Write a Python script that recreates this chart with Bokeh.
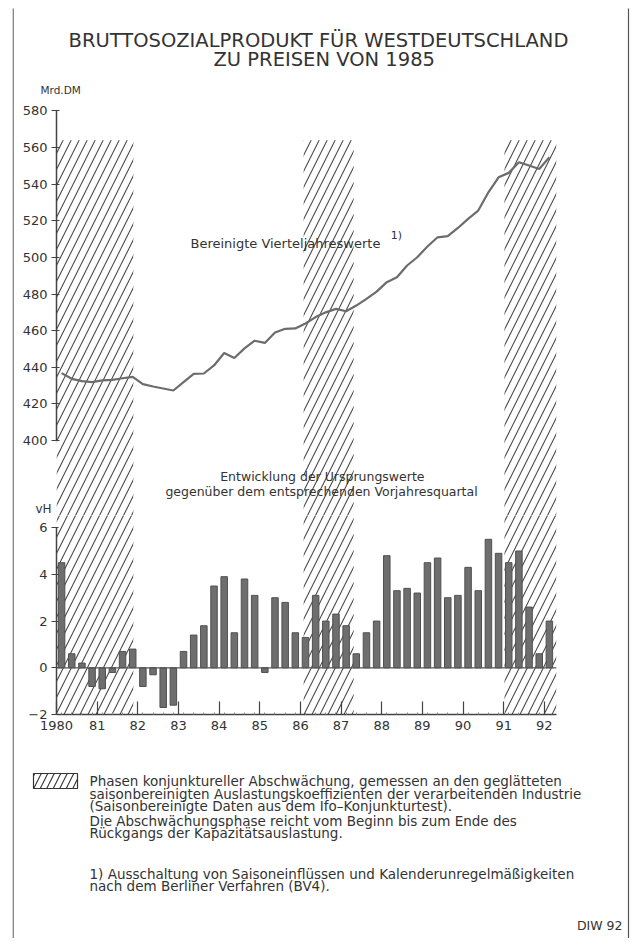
from bokeh.plotting import figure
from bokeh.models import Range1d, LinearAxis, FixedTicker, Label, Span, Title
from bokeh.layouts import column
from bokeh.embed import file_html
from bokeh.resources import INLINE
from bokeh.core.properties import value

# ---------------- data ----------------
quarter_year = [y for y in range(1980, 1992) for _ in range(4)] + [1992]
quarter_num = [1, 2, 3, 4] * 12 + [1]

# Bruttosozialprodukt, bereinigte Vierteljahreswerte (Mrd. DM, Preise 1985)
gnp = [436.8, 433.7, 432.4, 431.9, 432.8, 433.1, 434.0, 434.8,
       430.8, 429.5, 428.4, 427.3, 431.9, 436.4, 436.6, 441.0,
       447.8, 445.1, 450.3, 454.5, 453.3, 459.0, 461.0, 461.2,
       463.9, 467.4, 470.0, 471.9, 470.6, 473.7, 477.4, 481.3,
       486.5, 489.2, 495.6, 500.1, 506.0, 511.0, 511.6, 516.1,
       521.1, 525.6, 535.6, 543.8, 546.2, 552.0, 550.2, 548.3,
       554.7]

# Veraenderung gegenueber Vorjahresquartal (vH)
growth = [4.5, 0.6, 0.2, -0.8, -0.9, -0.2, 0.7, 0.8,
          -0.8, -0.3, -1.7, -1.6, 0.7, 1.4, 1.8, 3.5,
          3.9, 1.5, 3.8, 3.1, -0.2, 3.0, 2.8, 1.5,
          1.3, 3.1, 2.0, 2.3, 1.8, 0.6, 1.5, 2.0,
          4.8, 3.3, 3.4, 3.2, 4.5, 4.7, 3.0, 3.1,
          4.3, 3.3, 5.5, 4.9, 4.5, 5.0, 2.6, 0.6,
          2.0]

# Phasen konjunktureller Abschwaechung (in Jahren)
phase_start = [1980.0, 1986.08, 1991.02]
phase_end = [1981.89, 1987.31, 1992.3]

year_ticks = list(range(1980, 1993))
year_labels = ["1980", "81", "82", "83", "84", "85", "86", "87", "88", "89", "90", "91", "92"]
upper_ticks = [400, 420, 440, 460, 480, 500, 520, 540, 560, 580]
lower_ticks = [-2, 0, 2, 4, 6]
lower_labels = ["\u22122", "0", "2", "4", "6"]

title_lines = ["BRUTTOSOZIALPRODUKT FÜR WESTDEUTSCHLAND", "ZU PREISEN VON 1985"]
legend_lines = [
    "Phasen konjunktureller Abschwächung, gemessen an den geglätteten",
    "saisonbereinigten Auslastungskoeffizienten der verarbeitenden Industrie",
    "(Saisonbereinigte Daten aus dem Ifo\u2013Konjunkturtest).",
    "Die Abschwächungsphase reicht vom Beginn bis zum Ende des",
    "Rückgangs der Kapazitätsauslastung.",
    "1) Ausschaltung von Saisoneinflüssen und Kalenderunregelmäßigkeiten",
    "nach dem Berliner Verfahren (BV4).",
]

x_q = [y + (q - 0.5) / 4 for y, q in zip(quarter_year, quarter_num)]

FONT = "DejaVu Sans"
TXT = "#333333"
AX = "#444444"
HATCH = "#4a4a4a"
W = 615

xr_start, xr_end = 1980.0, 1992.3

# ---------------- upper panel ----------------
up_lo, up_hi = 359.03, 583.0
p1 = figure(width=W, height=507, output_backend="svg", toolbar_location=None,
            x_range=Range1d(xr_start, xr_end), y_range=Range1d(up_lo, up_hi),
            x_axis_type=None, y_axis_type=None,
            min_border_left=44, min_border_right=71, min_border_top=97, min_border_bottom=0)
p1.outline_line_color = None
p1.border_fill_color = "white"

p1.quad(left=phase_start, right=phase_end, bottom=up_lo - 10, top=564,
        fill_alpha=0, line_alpha=0, hatch_pattern="/", hatch_scale=16,
        hatch_weight=1.1, hatch_color=HATCH)
p1.line(x_q, gnp, line_color="#6c6c6c", line_width=2.2)

ya = LinearAxis(bounds=(400, 580), ticker=FixedTicker(ticks=upper_ticks))
ya.axis_line_color = AX
ya.axis_line_width = 1.5
ya.major_tick_line_color = AX
ya.major_tick_line_width = 1.2
ya.major_tick_in = 3
ya.major_tick_out = 5
ya.minor_tick_line_color = None
ya.major_label_text_font = FONT
ya.major_label_text_font_size = "13px"
ya.major_label_text_color = TXT
ya.major_label_standoff = 4
p1.add_layout(ya, "left")

p1.add_layout(Title(text="Mrd.DM", align="left", offset=-16, standoff=20,
                    text_font=FONT, text_font_size="10.5px", text_font_style="normal",
                    text_color=TXT), "above")
p1.add_layout(Title(text=title_lines[1], align="left", offset=157, standoff=1,
                    text_font=FONT, text_font_size="19.5px", text_font_style="normal",
                    text_color=TXT), "above")
p1.add_layout(Title(text=title_lines[0], align="left", offset=12, standoff=-12,
                    text_font=FONT, text_font_size="19.5px", text_font_style="normal",
                    text_color=TXT), "above")

p1.add_layout(Label(x=1983.296, y=507.6, text="Bereinigte Vierteljahreswerte",
                    text_align="left", text_baseline="middle", text_font=FONT,
                    text_font_size="13px", text_color=TXT))
p1.add_layout(Label(x=1988.22, y=512.0, text="1)", text_align="left",
                    text_baseline="middle", text_font=FONT, text_font_size="11px",
                    text_color=TXT))
p1.add_layout(Label(x=1986.54, y=380.33, text="Entwicklung der Ursprungswerte",
                    text_align="center", text_baseline="middle", text_font=FONT,
                    text_font_size="12.5px", text_color=TXT))
p1.add_layout(Label(x=1986.52, y=372.14, text="gegenüber dem entsprechenden Vorjahresquartal",
                    text_align="center", text_baseline="middle", text_font=FONT,
                    text_font_size="12.5px", text_color=TXT))

# ---------------- lower panel ----------------
lo_lo, lo_hi = -2.0, 6.52
p2 = figure(width=W, height=257, output_backend="svg", toolbar_location=None,
            x_range=p1.x_range, y_range=Range1d(lo_lo, lo_hi),
            x_axis_type=None, y_axis_type=None,
            min_border_left=44, min_border_right=71, min_border_top=27, min_border_bottom=31,
            styles={"margin-top": "-27px"})
p2.outline_line_color = None
p2.border_fill_color = None
p2.background_fill_color = None

p2.quad(left=phase_start, right=phase_end, bottom=lo_lo, top=lo_hi + 2,
        fill_alpha=0, line_alpha=0, hatch_pattern="/", hatch_scale=16,
        hatch_weight=1.1, hatch_color=HATCH)
p2.add_layout(Span(location=0, dimension="width", line_color="#555555", line_width=1.2))
p2.vbar(x=x_q, width=0.16, bottom=0, top=growth, fill_color="#6e6e6e",
        line_color="#505050", line_width=1)

la = LinearAxis(bounds=(-2, 6), ticker=FixedTicker(ticks=lower_ticks))
la.major_label_overrides = {t: s for t, s in zip(lower_ticks, lower_labels)}
la.axis_line_color = AX
la.axis_line_width = 1.5
la.major_tick_line_color = AX
la.major_tick_line_width = 1.2
la.major_tick_in = 2
la.major_tick_out = 5
la.minor_tick_line_color = None
la.major_label_text_font = FONT
la.major_label_text_font_size = "13px"
la.major_label_text_color = TXT
la.major_label_standoff = 4
p2.add_layout(la, "left")

xa = LinearAxis(ticker=FixedTicker(ticks=year_ticks, minor_ticks=x_q[:-1]))
xa.major_label_overrides = {t: s for t, s in zip(year_ticks, year_labels)}
xa.axis_line_color = AX
xa.axis_line_width = 1.5
xa.major_tick_line_color = AX
xa.major_tick_line_width = 1.2
xa.major_tick_in = 13
xa.major_tick_out = 0
xa.minor_tick_line_color = "#888888"
xa.minor_tick_in = 2
xa.minor_tick_out = 0
xa.major_label_text_font = FONT
xa.major_label_text_font_size = "13px"
xa.major_label_text_color = TXT
xa.major_label_standoff = 6
p2.add_layout(xa, "below")

p2.add_layout(Title(text="vH", align="left", offset=-21, standoff=0,
                    text_font=FONT, text_font_size="12px", text_font_style="normal",
                    text_color=TXT), "above")

# ---------------- notes / legend ----------------
p3 = figure(width=W, height=193, output_backend="svg", toolbar_location=None,
            x_range=Range1d(12, 12 + W), y_range=Range1d(938, 745),
            x_axis_type=None, y_axis_type=None, min_border=0,
            min_border_left=0, min_border_right=0, min_border_top=0, min_border_bottom=0)
p3.outline_line_color = None
p3.border_fill_color = "white"
p3.quad(left=[33], right=[77], top=[773], bottom=[788], fill_alpha=0,
        line_color="#333333", line_width=1.2, hatch_pattern="/", hatch_scale=13,
        hatch_weight=1.1, hatch_color="#333333")
note_y = [780, 793, 805.5, 820, 832, 873, 885]
p3.text(x=[89] * len(legend_lines), y=note_y, text=legend_lines,
        text_font=value(FONT), text_font_size="13.5px", text_color=TXT,
        text_baseline="middle", text_align="left")
p3.text(x=[622], y=[925], text=["DIW 92"], text_font=value(FONT),
        text_font_size="12.5px", text_color=TXT, text_baseline="middle", text_align="right")

# ---------------- page frame (transparent overlay) ----------------
p0 = figure(width=618, height=930, output_backend="svg", toolbar_location=None,
            x_range=Range1d(12, 630), y_range=Range1d(938, 8),
            x_axis_type=None, y_axis_type=None, min_border=0,
            min_border_left=0, min_border_right=0, min_border_top=0, min_border_bottom=0)
p0.outline_line_color = None
p0.border_fill_color = None
p0.background_fill_color = None
p0.segment(x0=[12.6, 628], y0=[0, 0], x1=[12.6, 628], y1=[960, 960],
           line_color="#555555", line_width=1.2)

layout = column(column(p1, p2), p3, column(p0, styles={"margin-top": "-930px"}),
                styles={"margin-left": "12px", "margin-top": "8px"})

open("out.html", "w").write(file_html(layout, INLINE))
